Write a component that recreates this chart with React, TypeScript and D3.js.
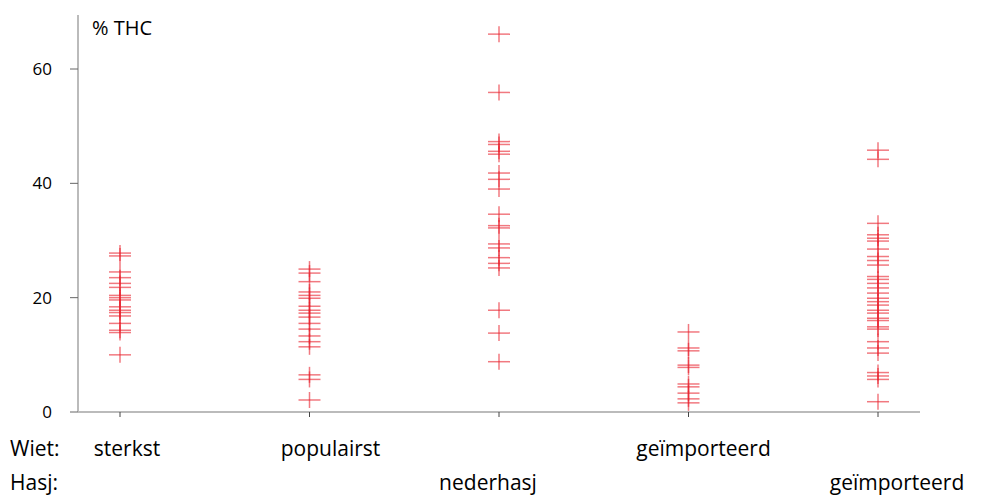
import React from 'react';
import * as d3 from 'd3';

const groups = ['sterkst', 'populairst', 'nederhasj', 'geïmporteerd', 'geïmporteerd2'];
const rowLabels = ['Wiet:', 'Hasj:'];
const groupLabels = [
  { text: 'sterkst', row: 0, dx: 7 },
  { text: 'populairst', row: 0, dx: 21 },
  { text: 'nederhasj', row: 1, dx: -11 },
  { text: 'geïmporteerd', row: 0, dx: 15 },
  { text: 'geïmporteerd', row: 1, dx: 19 },
];
const sterkst = [27.8, 27.3, 24.5, 23.5, 22.5, 21.8, 20.4, 20, 19.6, 18.4, 17.8, 17.4, 16.8, 15.5, 14.3, 13.9, 10];
const populairst = [25, 24.3, 22.8, 21, 20.4, 19.9, 18.5, 17.8, 17.3, 16.6, 15.5, 14.5, 13.3, 12.3, 11.4, 6.5, 5.7, 2.1];
const nederhasj = [66.1, 55.9, 47.3, 46.8, 45.6, 45.1, 41.8, 40.7, 39, 34.6, 32.6, 32.2, 29.4, 28.7, 27, 26, 25.2, 17.8, 13.8, 8.8];
const wietImport = [14, 11.2, 10.7, 8.2, 7.8, 4.9, 4.4, 3.3, 2.3, 1.6];
const hasjImport = [45.8, 44.2, 33, 31, 30.4, 29.9, 28.5, 27.2, 26.5, 25.7, 23.7, 23.2, 22.5, 21.7, 20.8, 19.9, 19.3, 18.7, 17.8, 17.3, 16.4, 16, 14.9, 14.5, 12.3, 11.2, 10.3, 6.9, 6.3, 5.7, 1.8];
const series = [sterkst, populairst, nederhasj, wietImport, hasjImport];
const yTicks = [0, 20, 40, 60];

const W = 983, H = 498;
const left = 78, right = 920, top = 15, bottom = 412;

export default function App() {
  const x = d3.scalePoint<string>().domain(groups).range([120, 878]);
  const y = d3.scaleLinear().domain([0, 60]).range([bottom, 69]);
  const font = '"Open Sans", sans-serif';
  return (
    <svg width={W} height={H} style={{ position: 'absolute', left: 0, top: 0, background: '#fff' }} fontFamily={font}>
      <line x1={left} x2={left} y1={top} y2={bottom} stroke="#bbb" strokeWidth={2} />
      <line x1={left} x2={right} y1={bottom} y2={bottom} stroke="#bbb" strokeWidth={2} />
      {yTicks.map(t => (
        <g key={t}>
          <line x1={left - 8} x2={left} y1={y(t)} y2={y(t)} stroke="#666" />
          <text x={left - 26} y={y(t)} dy="0.35em" textAnchor="end" fontSize={17}>{t}</text>
        </g>
      ))}
      {groups.map(g => (
        <line key={g} x1={x(g)} x2={x(g)} y1={bottom} y2={bottom + 5} stroke="#444" />
      ))}
      <text x={92} y={35} fontSize={20}>% THC</text>
      {series.map((vals, i) => vals.map((v, j) => {
        const cx = x(groups[i])!, cy = y(v);
        return (
          <g key={`${i}-${j}`} stroke="#e8202c" strokeOpacity={0.6} strokeWidth={1.5}>
            <line x1={cx - 11} x2={cx + 11} y1={cy} y2={cy} />
            <line x1={cx} x2={cx} y1={cy - 8} y2={cy + 8} />
          </g>
        );
      }))}
      {rowLabels.map((r, i) => (
        <text key={r} x={10} y={456 + i * 34} fontSize={21}>{r}</text>
      ))}
      {groupLabels.map((l, i) => (
        <text key={i} x={x(groups[i])! + l.dx} y={456 + l.row * 34} fontSize={21} textAnchor="middle">{l.text}</text>
      ))}
    </svg>
  );
}
